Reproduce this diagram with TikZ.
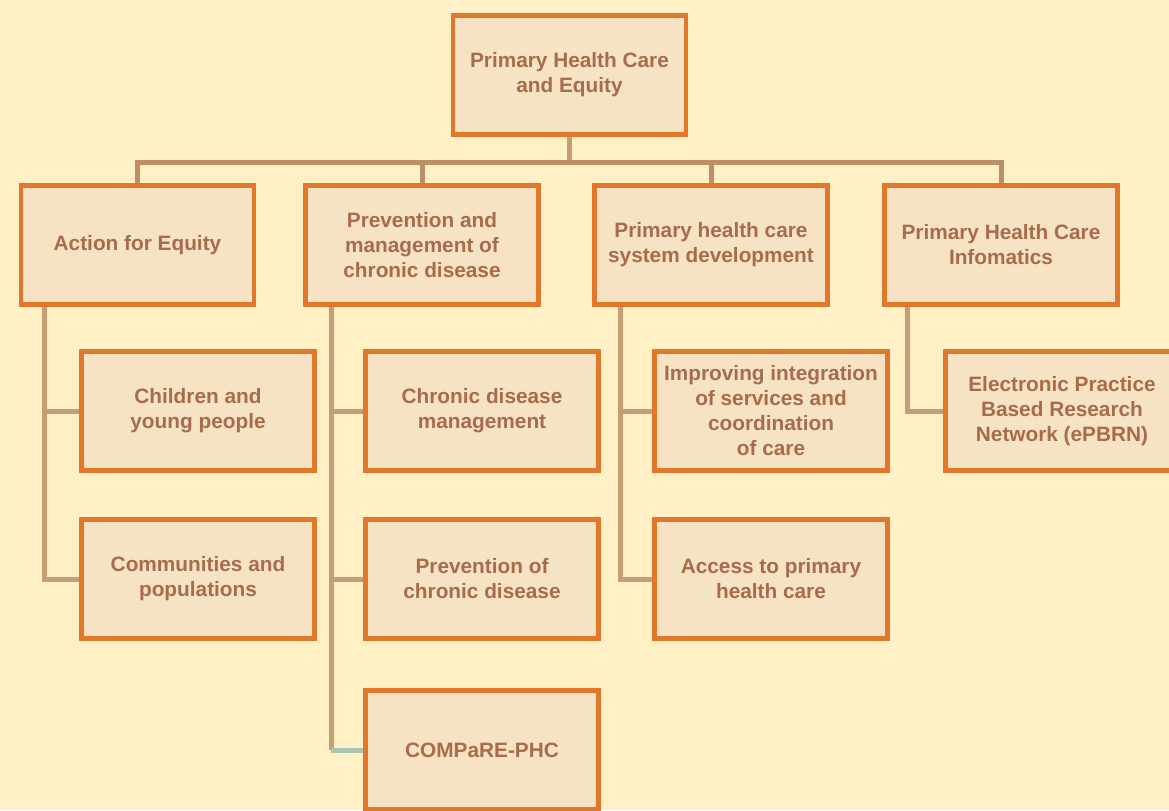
\documentclass[tikz,border=0pt]{standalone}
\usepackage{fontspec}
\setsansfont{Liberation Sans}
\usetikzlibrary{positioning,calc}
\definecolor{PaperBg}{HTML}{FFF0C6}
\definecolor{BoxFill}{HTML}{F5E3C3}
\definecolor{BoxEdge}{HTML}{E2762A}
\definecolor{BoxText}{HTML}{A86C4C}
\definecolor{LinkTan}{HTML}{C69E76}
\definecolor{LinkBar}{HTML}{BC9064}
\definecolor{LinkTeal}{HTML}{A8C4B4}

\begin{document}
\begin{tikzpicture}[x=0.75pt,y=-0.75pt,
  unit/.style={draw=BoxEdge,fill=BoxFill,line width=3.6pt,text=BoxText,
    font=\sffamily\bfseries\fontsize{15.6}{18.75}\selectfont,align=center,
    minimum width=174.75pt,minimum height=89.25pt,inner sep=0pt},
  link/.style={LinkTan,line width=3.75pt},
  bus/.style={LinkBar,line width=3.75pt}]
  \useasboundingbox[fill=PaperBg] (0,0) rectangle (1169,810);
  % top
  \node[unit] (phc) at (569.5,75) {Primary Health Care\\and Equity};
  % streams
  \node[unit] (act) at (137.5,245) {Action for Equity};
  \node[unit] (chr) at (422,245) {Prevention and\\management of\\chronic disease};
  \node[unit] (sys) at (711,245) {Primary health care\\system development};
  \node[unit] (inf) at (1001,245) {Primary Health Care\\Infomatics};
  % projects
  \node[unit] (kids) at (198,411) {Children and\\young people};
  \node[unit] (comm) at (198,579) {Communities and\\populations};
  \node[unit] (cdm) at (482,411) {Chronic disease\\management};
  \node[unit] (prev) at (482,579) {Prevention of\\chronic disease};
  \node[unit] (cmp) at (482,750) {COMPaRE-PHC};
  \node[unit] (integ) at (771,411) {Improving integration\\of services and\\coordination\\of care};
  \node[unit] (acc) at (771,579) {Access to primary\\health care};
  \node[unit] (epb) at (1062,411) {Electronic Practice\\Based Research\\Network (ePBRN)};
  % connectors
  \coordinate (bar) at (569.5,162);
  \draw[link] (phc.south) -- (bar);
  \foreach \s in {act,chr,sys,inf}
    \draw[bus] (bar) -| (\s.north);
  \coordinate (actsp) at ($(act.south west)+(26,0)$);
  \coordinate (chrsp) at ($(chr.south west)+(28,0)$);
  \coordinate (syssp) at ($(sys.south west)+(28,0)$);
  \coordinate (infsp) at ($(inf.south west)+(25,0)$);
  \draw[link] (actsp) |- (kids.west);
  \draw[link] (actsp) |- (comm.west);
  \draw[link] (chrsp) |- (cdm.west);
  \draw[link] (chrsp) |- (prev.west);
  \draw[link] (chrsp) -- (chrsp |- cmp.west);
  \draw[link,LinkTeal] (chrsp |- cmp.west) -- (cmp.west);
  \draw[link] (syssp) |- (integ.west);
  \draw[link] (syssp) |- (acc.west);
  \draw[link] (infsp) |- (epb.west);
\end{tikzpicture}
\end{document}
